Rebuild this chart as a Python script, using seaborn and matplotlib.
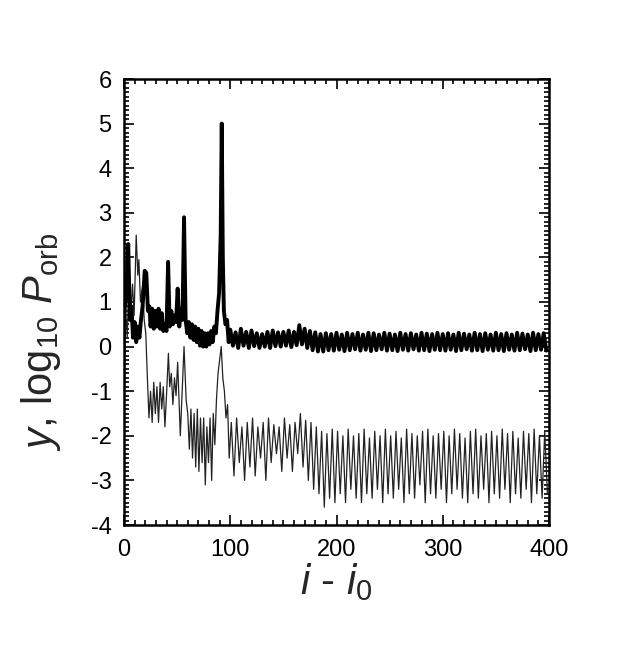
import numpy as np
import pandas as pd
import matplotlib
matplotlib.use("Agg")
import matplotlib.pyplot as plt
from matplotlib.ticker import MultipleLocator
import seaborn as sns

# ---------------- data ----------------
# thin curve: log10 P_orb  -- early irregular part (extrema)
thin_early_x = [0, 1.5, 3, 5, 6.5, 8, 9.5, 11.5, 13, 14, 15.5, 17.5, 19, 20.5, 22, 23.5,
                25, 26.5, 28, 29.5, 31, 32.5, 34, 35.5, 37, 38.5, 40, 41.8, 43, 44.5,
                46, 47.5, 49, 50.5, 53, 56.5, 58.5, 60, 61.5, 63, 64.5, 66, 67.5, 69,
                70.5, 72, 73.5, 75, 76.5, 78, 79.5, 81, 82.5, 84, 85.5, 87, 88.5, 90,
                91.5, 93, 94.5, 96, 97.5, 99]
thin_early_y = [-1.9, 0.9, 0.2, 1.6, 0.8, 1.4, 0.7, 2.5, 1.6, 1.95, 1.0, 1.35, 0.6, 0.3, -0.7, -1.6,
                -1.0, -1.7, -0.8, -1.5, -0.9, -1.7, -0.8, -1.4, -0.9, -1.8, -1.1, -0.15, -0.9, -0.6,
                -1.3, -0.7, -1.1, -0.35, -2.0, 0.0, -1.2, -1.5, -2.3, -1.4, -2.5, -1.5, -2.7, -1.4,
                -2.8, -1.6, -2.6, -1.6, -3.1, -1.8, -2.6, -1.6, -3.0, -1.5, -2.2, -1.2, -0.6, -0.3,
                0.0, -0.7, -1.0, -1.6, -1.3, -2.5]
# thin curve: regular oscillation (peaks and troughs)
thin_peak_x = [101, 106, 111, 116, 121, 126, 131, 136, 141, 146,
               151, 156, 161, 166, 171, 176, 181, 186, 191, 196,
               201, 206, 211, 216, 221, 226, 231, 236, 241, 246,
               251, 256, 261, 266, 271, 276, 281, 286, 291, 296,
               301, 306, 311, 316, 321, 326, 331, 336, 341, 346,
               351, 356, 361, 366, 371, 376, 381, 386, 391, 396]
thin_peak_y = [-1.7, -1.6, -1.8, -1.7, -1.6, -1.8, -1.7, -1.6, -1.75, -1.8,
               -1.6, -1.75, -1.7, -1.5, -1.65, -1.7, -1.8, -1.9, -1.95, -1.85,
               -1.9, -2.0, -1.85, -2.0, -1.95, -1.85, -2.05, -1.9, -2.0, -1.85,
               -2.0, -1.9, -2.05, -1.85, -1.95, -2.0, -1.9, -1.85, -2.0, -1.95,
               -1.9, -2.0, -1.85, -1.95, -2.05, -1.9, -1.85, -2.0, -1.95, -1.9,
               -2.0, -1.85, -1.95, -1.9, -2.05, -1.9, -1.95, -1.85, -2.0, -1.9]
thin_trough_x = [103.5, 108.5, 113.5, 118.5, 123.5, 128.5, 133.5, 138.5, 143.5, 148.5,
                 153.5, 158.5, 163.5, 168.5, 173.5, 178.5, 183.5, 188.5, 193.5, 198.5,
                 203.5, 208.5, 213.5, 218.5, 223.5, 228.5, 233.5, 238.5, 243.5, 248.5,
                 253.5, 258.5, 263.5, 268.5, 273.5, 278.5, 283.5, 288.5, 293.5, 298.5,
                 303.5, 308.5, 313.5, 318.5, 323.5, 328.5, 333.5, 338.5, 343.5, 348.5,
                 353.5, 358.5, 363.5, 368.5, 373.5, 378.5, 383.5, 388.5, 393.5, 398.5]
thin_trough_y = [-2.9, -2.6, -3.0, -2.7, -2.9, -2.5, -3.0, -2.6, -2.4, -2.8,
                 -2.5, -2.8, -2.4, -2.7, -3.0, -3.2, -3.3, -3.6, -3.4, -3.5,
                 -3.3, -3.5, -3.2, -3.4, -3.5, -3.3, -3.4, -3.2, -3.5, -3.3,
                 -3.4, -3.2, -3.5, -3.3, -3.4, -3.1, -3.5, -3.3, -3.4, -3.2,
                 -3.5, -3.3, -3.2, -3.4, -3.5, -3.3, -3.4, -3.2, -3.5, -3.3,
                 -3.4, -3.2, -3.5, -3.3, -3.4, -3.2, -3.5, -3.3, -3.4, -3.3]

# thick curve: y -- early irregular part (extrema)
thick_early_x = [0, 2, 4, 5.5, 7, 8.5, 10, 11.5, 13, 14.5, 16, 17.5, 19.5, 21, 22.5, 24,
                 25, 26.5, 28, 29.5, 31, 32.5, 34, 35.5, 37, 38.5, 40, 41.5, 43, 44.5,
                 46, 47.5, 49, 50.5, 52, 53.5, 55, 56.5, 58, 59.5, 61, 62.5, 64, 65.5,
                 67, 68.5, 70, 71.5, 73, 74.5, 76, 77.5, 79, 80.5, 82, 83.5, 85, 86.5,
                 88, 89.5, 91, 92, 93, 94, 95.5, 97, 98.5]
thick_early_y = [0.7, 1.2, 2.3, 0.6, 0.9, 0.2, 0.55, 0.1, 0.45, 0.2, 0.6, 0.9, 1.7, 1.65, 0.8, 0.9,
                 0.45, 0.85, 0.4, 0.8, 0.45, 0.85, 0.4, 0.75, 0.35, 0.5, 0.35, 1.9, 0.45, 0.8,
                 0.5, 0.7, 0.55, 1.3, 0.45, 0.85, 0.6, 2.9, 0.6, 0.3, 0.55, 0.2, 0.5, 0.15,
                 0.45, 0.1, 0.4, 0.02, 0.35, 0.0, 0.3, 0.0, 0.3, 0.05, 0.35, 0.1, 0.45, 0.3,
                 0.8, 1.2, 2.5, 5.0, 2.0, 0.8, 0.5, 0.6, 0.1]
# thick curve: regular oscillation (peaks and troughs)
thick_peak_x = [100, 105, 110, 115, 120, 125, 130, 135, 140, 145,
                150, 155, 160, 165, 170, 175, 180, 185, 190, 195,
                200, 205, 210, 215, 220, 225, 230, 235, 240, 245,
                250, 255, 260, 265, 270, 275, 280, 285, 290, 295,
                300, 305, 310, 315, 320, 325, 330, 335, 340, 345,
                350, 355, 360, 365, 370, 375, 380, 385, 390, 395]
thick_peak_y = [0.38, 0.32, 0.4, 0.33, 0.36, 0.3, 0.28, 0.33, 0.36, 0.32,
                0.33, 0.36, 0.33, 0.48, 0.4, 0.35, 0.32, 0.28, 0.3, 0.28,
                0.31, 0.27, 0.31, 0.28, 0.31, 0.27, 0.31, 0.3, 0.27, 0.31,
                0.29, 0.27, 0.31, 0.28, 0.3, 0.27, 0.31, 0.29, 0.28, 0.31,
                0.28, 0.3, 0.27, 0.31, 0.29, 0.27, 0.31, 0.28, 0.3, 0.27,
                0.31, 0.28, 0.3, 0.27, 0.31, 0.29, 0.27, 0.31, 0.28, 0.3]
thick_trough_x = [102.5, 107.5, 112.5, 117.5, 122.5, 127.5, 132.5, 137.5, 142.5, 147.5,
                  152.5, 157.5, 162.5, 167.5, 172.5, 177.5, 182.5, 187.5, 192.5, 197.5,
                  202.5, 207.5, 212.5, 217.5, 222.5, 227.5, 232.5, 237.5, 242.5, 247.5,
                  252.5, 257.5, 262.5, 267.5, 272.5, 277.5, 282.5, 287.5, 292.5, 297.5,
                  302.5, 307.5, 312.5, 317.5, 322.5, 327.5, 332.5, 337.5, 342.5, 347.5,
                  352.5, 357.5, 362.5, 367.5, 372.5, 377.5, 382.5, 387.5, 392.5, 397.5]
thick_trough_y = [0.02, -0.03, 0.02, -0.03, 0.01, -0.03, 0.0, -0.03, 0.01, 0.0,
                  0.02, -0.01, 0.03, 0.05, -0.03, -0.08, -0.11, -0.11, -0.08, -0.09,
                  -0.07, -0.1, -0.08, -0.06, -0.09, -0.07, -0.1, -0.08, -0.06, -0.09,
                  -0.08, -0.1, -0.07, -0.09, -0.06, -0.09, -0.08, -0.1, -0.07, -0.08,
                  -0.09, -0.07, -0.1, -0.08, -0.06, -0.09, -0.08, -0.1, -0.07, -0.09,
                  -0.08, -0.1, -0.07, -0.09, -0.08, -0.06, -0.1, -0.08, -0.07, -0.09]

x_ticks = [0, 100, 200, 300, 400]
y_ticks = [-4, -3, -2, -1, 0, 1, 2, 3, 4, 5, 6]

# ---------------- build tables ----------------
thin = pd.DataFrame({"x": thin_early_x + thin_peak_x + thin_trough_x,
                     "v": thin_early_y + thin_peak_y + thin_trough_y}).sort_values("x")
thick = pd.DataFrame({"x": thick_early_x + thick_peak_x + thick_trough_x,
                      "v": thick_early_y + thick_peak_y + thick_trough_y}).sort_values("x")

# ---------------- style ----------------
sns.set_style("ticks")
plt.rcParams["font.family"] = ["Liberation Sans", "DejaVu Sans"]
plt.rcParams["mathtext.fontset"] = "custom"
plt.rcParams["mathtext.rm"] = "Liberation Sans"
plt.rcParams["mathtext.it"] = "Liberation Sans:italic"
plt.rcParams["mathtext.bf"] = "Liberation Sans:bold"

fig = plt.figure(figsize=(6.23, 6.47), dpi=100)
ax = fig.add_axes([124 / 623, 1 - 525 / 647, (549 - 124) / 623, (525 - 79) / 647])

sns.lineplot(data=thin, x="x", y="v", sort=False, ax=ax, color="#222222", linewidth=0.9)
sns.lineplot(data=thick, x="x", y="v", sort=False, ax=ax, color="black", linewidth=2.8)

ax.set_xlim(0, 400)
ax.set_ylim(-4, 6)
ax.set_xticks(x_ticks)
ax.set_yticks(y_ticks)
ax.set_xticklabels([str(t) for t in x_ticks])
ax.set_yticklabels([str(t) for t in y_ticks])
ax.xaxis.set_minor_locator(MultipleLocator(10))
ax.yaxis.set_minor_locator(MultipleLocator(0.1))
ax.tick_params(which="both", direction="in", top=True, right=True, width=1.2, colors="black")
ax.tick_params(which="major", length=7, labelsize=17)
ax.tick_params(axis="x", which="major", pad=10)
ax.tick_params(axis="y", which="major", pad=9)
ax.tick_params(which="minor", length=3.5)
for s in ax.spines.values():
    s.set_linewidth(1.8)
    s.set_color("black")

ax.set_xlabel(r"$i$ - $i_0$", fontsize=30, labelpad=0)
ax.set_ylabel(r"$y$, log$_{10}$ $P_{\rm orb}$", fontsize=30, labelpad=20)
ax.yaxis.label.set_y(0.41)

fig.savefig("out.png", dpi=100)
